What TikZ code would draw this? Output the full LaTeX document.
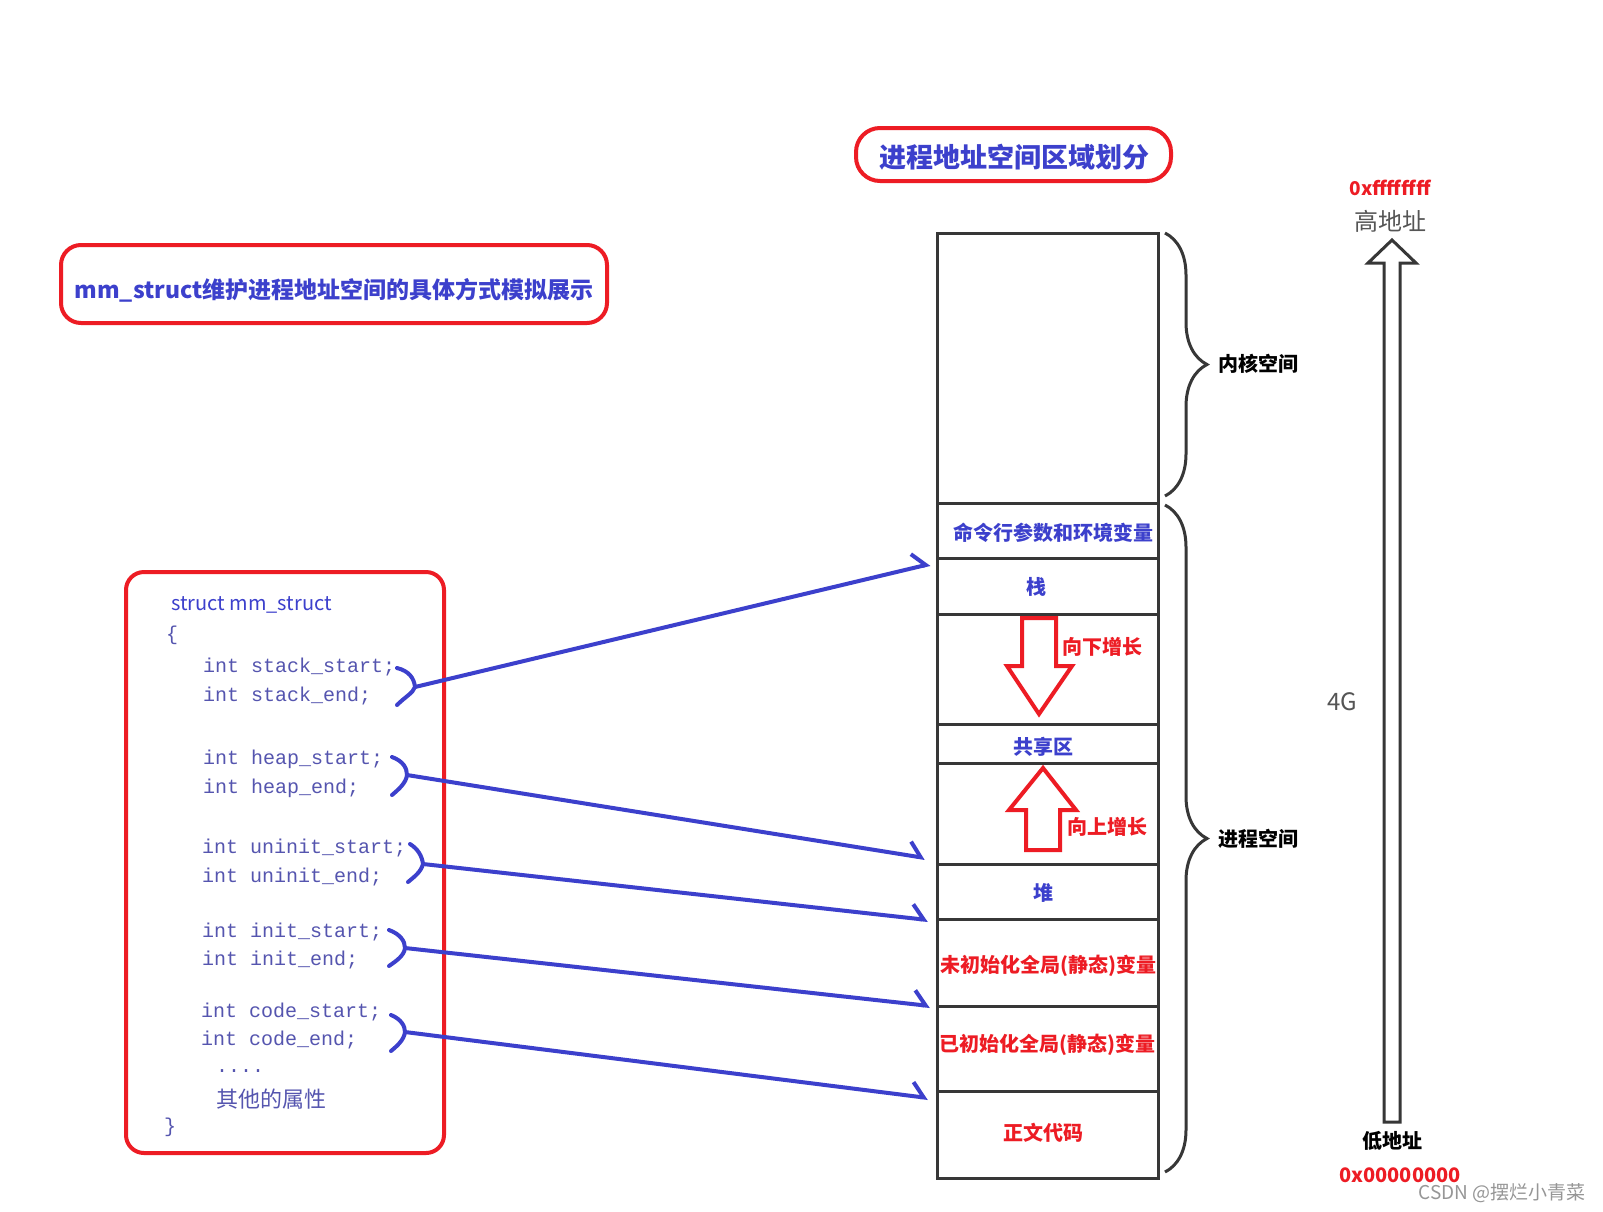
\documentclass[tikz,border=0pt]{standalone}
\usepackage{fontspec}
\setmainfont{Noto Sans CJK SC}
\newfontfamily\codefont{Liberation Mono}
\usetikzlibrary{arrows.meta,decorations.pathreplacing}
\definecolor{tblue}{RGB}{60,64,204}
\definecolor{tred}{RGB}{237,28,36}
\definecolor{codec}{RGB}{85,85,175}
\definecolor{dgray}{RGB}{55,55,55}
\definecolor{mgray}{RGB}{85,85,85}
\definecolor{wgray}{RGB}{150,150,150}
\newcommand\fsz[1]{\fontsize{#1}{#1}\selectfont}
\begin{document}
\begin{tikzpicture}[x=1pt,y=-1pt,
  titlebox/.style={draw=tred, line width=4pt, rounded corners=20pt, inner sep=0pt},
  titletext/.style={inner sep=0pt, text=tblue, font=\fsz{23}\bfseries},
  row/.style={draw=dgray, line width=3pt, minimum width=221pt, inner sep=0pt},
  blbl/.style={inner sep=0pt, text=tblue, font=\fsz{20}\bfseries},
  rlbl/.style={inner sep=0pt, text=tred, font=\fsz{20}\bfseries},
  klbl/.style={inner sep=0pt, text=black, font=\fsz{20}\bfseries, anchor=west},
  code/.style={inner sep=0pt, text=codec, font=\codefont\fsz{20}, anchor=west},
  conn/.style={draw=tblue, line width=4pt, line cap=round, -{Straight Barb[harpoon, length=12pt, width=28pt, line width=4pt]}},
  bracket/.style={draw=tblue, line width=4pt, line cap=round},
  growarrow/.style={draw=tred, line width=4pt},
  brc/.style={draw=dgray, line width=3pt, decorate, decoration={brace, amplitude=42pt}}
]
\useasboundingbox (0,0) rectangle (1603,1211);
\fill[white] (0,0) rectangle (1603,1211);

% titles
\node[titlebox, minimum width=546pt, minimum height=78pt] (t1) at (334,284) {};
\node[titletext] (t1t) at (334,290) {mm\_struct维护进程地址空间的具体方式模拟展示};
\node[titlebox, rounded corners=24pt, minimum width=315pt, minimum height=53pt] (t2) at (1013.5,154.5) {};
\node[titletext, font=\fsz{27}\bfseries] (t2t) at (1014,157) {进程地址空间区域划分};

% struct box
\node[draw=tred, line width=4pt, rounded corners=18pt, minimum width=318pt, minimum height=581pt] (sbox) at (285,862.5) {};
\node[inner sep=0pt, text=tblue, font=\fsz{20}, anchor=west] (sname) at (171,605) {struct mm\_struct};
\node[code] (lb) at (166,635) {\{};
\node[code] (l1) at (203,667) {int stack\_start;};
\node[code] (l2) at (203,696) {int stack\_end;};
\node[code] (l3) at (203,759) {int heap\_start;};
\node[code] (l4) at (203,788) {int heap\_end;};
\node[code] (l5) at (202,848) {int uninit\_start;};
\node[code] (l6) at (202,877) {int uninit\_end;};
\node[code] (l7) at (202,932) {int init\_start;};
\node[code] (l8) at (202,960) {int init\_end;};
\node[code] (l9) at (201,1012) {int code\_start;};
\node[code] (l10) at (201,1040) {int code\_end;};
\node[code] (dots) at (216,1071) {....};
\node[inner sep=0pt, text=codec, font=\fsz{22}, anchor=west] (other) at (216,1099) {其他的属性};
\node[code] (rb) at (164,1127) {\}};

% memory column
\node[row, minimum height=270pt] (kernel) at (1047.5,368) {};
\node[row, minimum height=55pt] (cmd) at (1047.5,530.5) {};
\node[row, minimum height=56pt] (stack) at (1047.5,586) {};
\node[row, minimum height=110pt] (gap1) at (1047.5,669) {};
\node[row, minimum height=39pt] (shared) at (1047.5,743.5) {};
\node[row, minimum height=101pt] (gap2) at (1047.5,813.5) {};
\node[row, minimum height=55pt] (heap) at (1047.5,891.5) {};
\node[row, minimum height=87pt] (uninit) at (1047.5,962.5) {};
\node[row, minimum height=85pt] (init) at (1047.5,1048.5) {};
\node[row, minimum height=87pt] (codeseg) at (1047.5,1134.5) {};

\node[blbl] (cmdt) at (1053,533) {命令行参数和环境变量};
\node[blbl] (stackt) at (1036,587) {栈};
\node[blbl] (sharedt) at (1043,747) {共享区};
\node[blbl] (heapt) at (1043,893) {堆};
\node[rlbl] (uninitt) at (1048,966) {未初始化全局(静态)变量};
\node[rlbl] (initt) at (1047,1045) {已初始化全局(静态)变量};
\node[rlbl] (codet) at (1043,1133) {正文代码};

% growth arrows
\draw[growarrow] (1022,618) -- (1056,618) -- (1056,666) -- (1072,666) -- (1039,714) -- (1007,666) -- (1022,666) -- cycle;
\node[rlbl] (down) at (1102,647) {向下增长};
\draw[growarrow] (1026,850) -- (1060,850) -- (1060,810) -- (1076,810) -- (1043,768) -- (1009,810) -- (1026,810) -- cycle;
\node[rlbl] (up) at (1107,827) {向上增长};

% braces
\draw[brc] (1165,233) -- (1165,496);
\draw[brc] (1165,505) -- (1165,1172);
\node[klbl] (kern) at (1218,364) {内核空间};
\node[klbl] (proc) at (1218,839) {进程空间};

% address arrow
\draw[draw=dgray, line width=3pt] (1384,1122) -- (1384,263) -- (1368,263) -- (1392,240) -- (1416,263) -- (1400,263) -- (1400,1122) -- cycle;
\node[inner sep=0pt, text=tred, font=\fsz{19}\bfseries] (hi) at (1390,188) {0xffffffff};
\node[inner sep=0pt, text=mgray, font=\fsz{24}] (hit) at (1390,221) {高地址};
\node[inner sep=0pt, text=mgray, font=\fsz{24}] (g4) at (1342,702) {4G};
\node[inner sep=0pt, text=black, font=\fsz{20}\bfseries] (lot) at (1392,1141) {低地址};
\node[inner sep=0pt, text=tred, font=\fsz{20}\bfseries] (lo) at (1400,1175) {0x00000000};
\node[inner sep=0pt, text=wgray, font=\fsz{19}] (wm) at (1502,1193) {CSDN @摆烂小青菜};

% brackets and connectors
\coordinate (b1) at (415,687);
\coordinate (b2) at (407,775);
\coordinate (b3) at (423,864);
\coordinate (b4) at (405,948);
\coordinate (b5) at (405,1032);
\coordinate (e1) at (930,564);
\coordinate (e2) at (925,858);
\coordinate (e3) at (928,920);
\coordinate (e4) at (930,1006);
\coordinate (e5) at (928,1098);
\draw[bracket] (397,668) .. controls (409,671) and (414,678) .. (b1) .. controls (413,693) and (405,697) .. (397,705);
\draw[bracket] (392,757) .. controls (403,761) and (407,768) .. (b2) .. controls (406,783) and (399,789) .. (392,795);
\draw[bracket] (410,844) .. controls (418,849) and (422,856) .. (b3) .. controls (421,872) and (414,877) .. (408,882);
\draw[bracket] (389,930) .. controls (400,934) and (405,941) .. (b4) .. controls (404,956) and (396,961) .. (389,966);
\draw[bracket] (391,1015) .. controls (401,1019) and (405,1026) .. (b5) .. controls (404,1040) and (397,1046) .. (391,1051);
\draw[conn] (b1) -- (e1);
\draw[conn] (b2) -- (e2);
\draw[conn] (b3) -- (e3);
\draw[conn] (b4) -- (e4);
\draw[conn] (b5) -- (e5);
\end{tikzpicture}
\end{document}
